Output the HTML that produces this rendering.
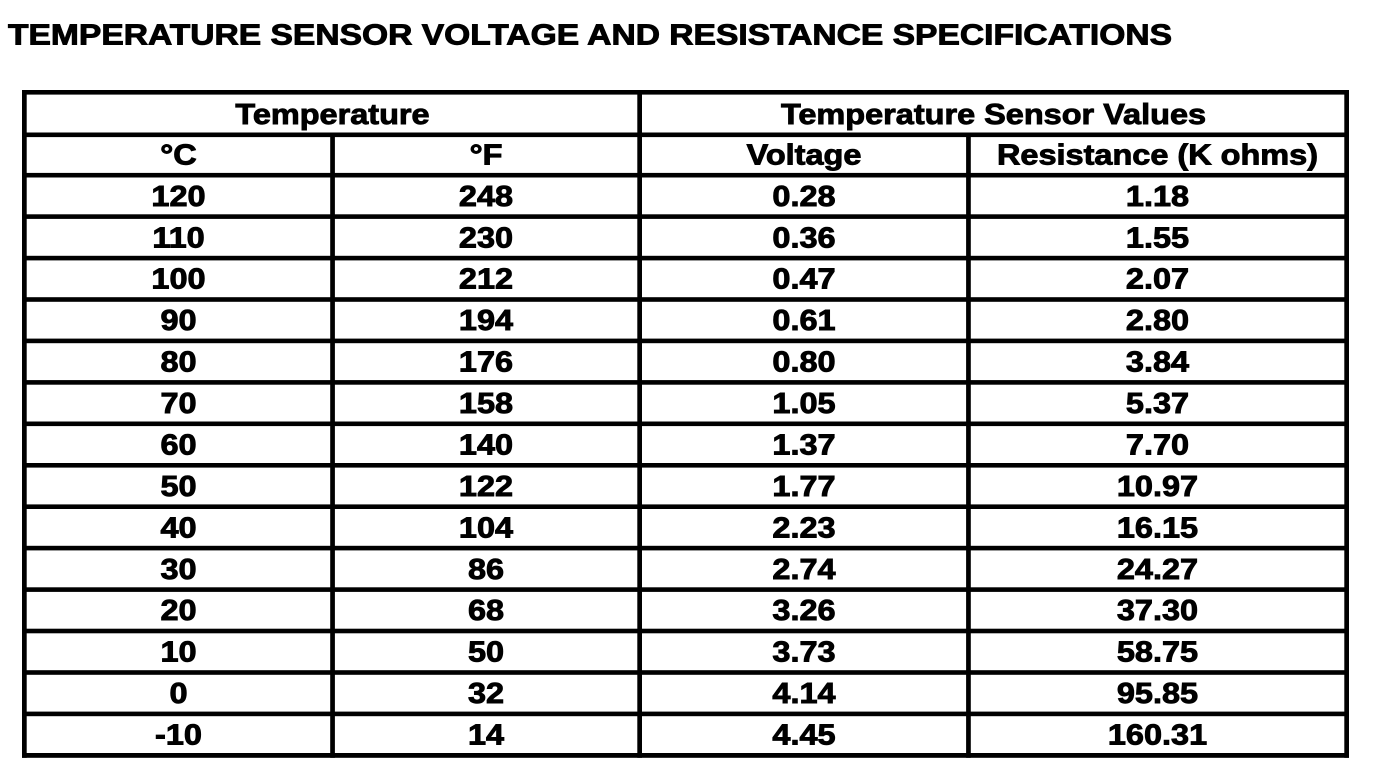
<!DOCTYPE html>
<html>
<head>
<meta charset="utf-8">
<style>
html,body{margin:0;padding:0;background:#fff;}
svg{display:block;}
text{font-family:"Liberation Sans",Arial,sans-serif;font-weight:bold;font-size:29px;fill:#000;stroke:#000;stroke-width:0.9px;}
</style>
</head>
<body>
<svg width="1392" height="780" viewBox="0 0 1392 780" xmlns="http://www.w3.org/2000/svg">
<rect x="0" y="0" width="1392" height="780" fill="#fff"/>
<text x="8" y="44.5" textLength="1164" lengthAdjust="spacingAndGlyphs">TEMPERATURE SENSOR VOLTAGE AND RESISTANCE SPECIFICATIONS</text>

<g fill="#000">
<rect x="22" y="90" width="1327" height="4.6"/>
<rect x="22" y="132.5" width="1327" height="4.6"/>
<rect x="22" y="172.9" width="1327" height="4.6"/>
<rect x="22" y="214.3" width="1327" height="4.6"/>
<rect x="22" y="255.8" width="1327" height="4.6"/>
<rect x="22" y="297.2" width="1327" height="4.6"/>
<rect x="22" y="338.6" width="1327" height="4.6"/>
<rect x="22" y="380.1" width="1327" height="4.6"/>
<rect x="22" y="421.5" width="1327" height="4.6"/>
<rect x="22" y="463.0" width="1327" height="4.6"/>
<rect x="22" y="504.4" width="1327" height="4.6"/>
<rect x="22" y="545.8" width="1327" height="4.6"/>
<rect x="22" y="587.3" width="1327" height="4.6"/>
<rect x="22" y="628.7" width="1327" height="4.6"/>
<rect x="22" y="670.2" width="1327" height="4.6"/>
<rect x="22" y="711.6" width="1327" height="4.6"/>
<rect x="22" y="753.0" width="1327" height="4.8"/>
<rect x="22" y="90" width="4.7" height="667.8"/>
<rect x="1344.3" y="90" width="4.7" height="667.8"/>
<rect x="637.3" y="90" width="4.7" height="667.8"/>
<rect x="330.2" y="132.5" width="4.7" height="625.3"/>
<rect x="966.1" y="132.5" width="4.7" height="625.3"/>
</g>

<g text-anchor="middle">
<text transform="translate(332.5,124) scale(1.12,1)">Temperature</text>
<text transform="translate(993.5,124) scale(1.12,1)">Temperature Sensor Values</text>

<text transform="translate(178.5,164.4) scale(1.12,1)">°C</text>
<text transform="translate(486,164.4) scale(1.12,1)">°F</text>
<text transform="translate(804,164.4) scale(1.12,1)">Voltage</text>
<text transform="translate(1157.5,164.4) scale(1.12,1)">Resistance (K ohms)</text>

<text transform="translate(178.5,205.8) scale(1.12,1)">120</text>
<text transform="translate(486,205.8) scale(1.12,1)">248</text>
<text transform="translate(804,205.8) scale(1.12,1)">0.28</text>
<text transform="translate(1157.5,205.8) scale(1.12,1)">1.18</text>

<text transform="translate(178.5,247.3) scale(1.12,1)">110</text>
<text transform="translate(486,247.3) scale(1.12,1)">230</text>
<text transform="translate(804,247.3) scale(1.12,1)">0.36</text>
<text transform="translate(1157.5,247.3) scale(1.12,1)">1.55</text>

<text transform="translate(178.5,288.7) scale(1.12,1)">100</text>
<text transform="translate(486,288.7) scale(1.12,1)">212</text>
<text transform="translate(804,288.7) scale(1.12,1)">0.47</text>
<text transform="translate(1157.5,288.7) scale(1.12,1)">2.07</text>

<text transform="translate(178.5,330.1) scale(1.12,1)">90</text>
<text transform="translate(486,330.1) scale(1.12,1)">194</text>
<text transform="translate(804,330.1) scale(1.12,1)">0.61</text>
<text transform="translate(1157.5,330.1) scale(1.12,1)">2.80</text>

<text transform="translate(178.5,371.6) scale(1.12,1)">80</text>
<text transform="translate(486,371.6) scale(1.12,1)">176</text>
<text transform="translate(804,371.6) scale(1.12,1)">0.80</text>
<text transform="translate(1157.5,371.6) scale(1.12,1)">3.84</text>

<text transform="translate(178.5,413) scale(1.12,1)">70</text>
<text transform="translate(486,413) scale(1.12,1)">158</text>
<text transform="translate(804,413) scale(1.12,1)">1.05</text>
<text transform="translate(1157.5,413) scale(1.12,1)">5.37</text>

<text transform="translate(178.5,454.5) scale(1.12,1)">60</text>
<text transform="translate(486,454.5) scale(1.12,1)">140</text>
<text transform="translate(804,454.5) scale(1.12,1)">1.37</text>
<text transform="translate(1157.5,454.5) scale(1.12,1)">7.70</text>

<text transform="translate(178.5,495.9) scale(1.12,1)">50</text>
<text transform="translate(486,495.9) scale(1.12,1)">122</text>
<text transform="translate(804,495.9) scale(1.12,1)">1.77</text>
<text transform="translate(1157.5,495.9) scale(1.12,1)">10.97</text>

<text transform="translate(178.5,537.3) scale(1.12,1)">40</text>
<text transform="translate(486,537.3) scale(1.12,1)">104</text>
<text transform="translate(804,537.3) scale(1.12,1)">2.23</text>
<text transform="translate(1157.5,537.3) scale(1.12,1)">16.15</text>

<text transform="translate(178.5,578.8) scale(1.12,1)">30</text>
<text transform="translate(486,578.8) scale(1.12,1)">86</text>
<text transform="translate(804,578.8) scale(1.12,1)">2.74</text>
<text transform="translate(1157.5,578.8) scale(1.12,1)">24.27</text>

<text transform="translate(178.5,620.2) scale(1.12,1)">20</text>
<text transform="translate(486,620.2) scale(1.12,1)">68</text>
<text transform="translate(804,620.2) scale(1.12,1)">3.26</text>
<text transform="translate(1157.5,620.2) scale(1.12,1)">37.30</text>

<text transform="translate(178.5,661.7) scale(1.12,1)">10</text>
<text transform="translate(486,661.7) scale(1.12,1)">50</text>
<text transform="translate(804,661.7) scale(1.12,1)">3.73</text>
<text transform="translate(1157.5,661.7) scale(1.12,1)">58.75</text>

<text transform="translate(178.5,703.1) scale(1.12,1)">0</text>
<text transform="translate(486,703.1) scale(1.12,1)">32</text>
<text transform="translate(804,703.1) scale(1.12,1)">4.14</text>
<text transform="translate(1157.5,703.1) scale(1.12,1)">95.85</text>

<text transform="translate(178.5,744.5) scale(1.12,1)">-10</text>
<text transform="translate(486,744.5) scale(1.12,1)">14</text>
<text transform="translate(804,744.5) scale(1.12,1)">4.45</text>
<text transform="translate(1157.5,744.5) scale(1.12,1)">160.31</text>
</g>
</svg>
</body>
</html>
